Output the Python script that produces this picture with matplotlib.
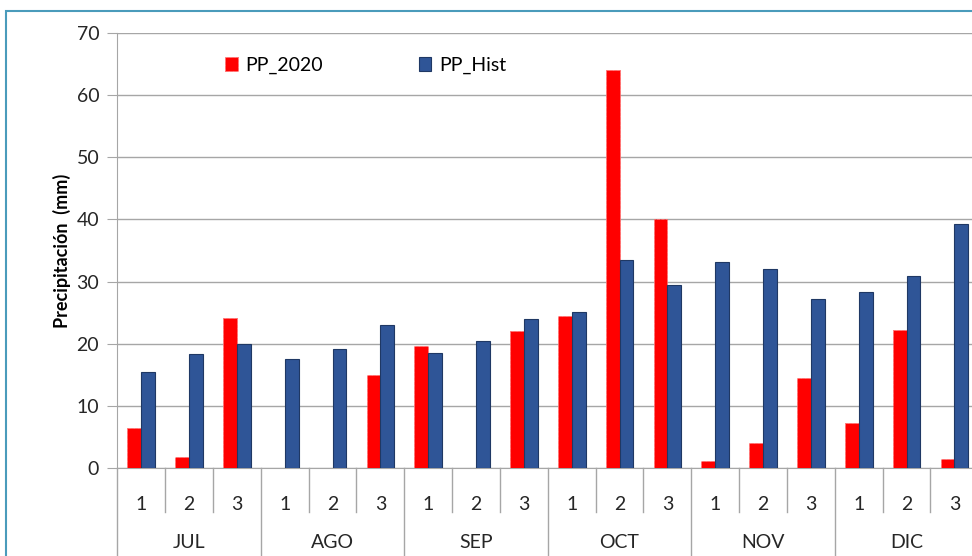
import numpy as np
import matplotlib as mpl
import matplotlib.pyplot as plt
from matplotlib.patches import Rectangle

plt.rcParams['font.family'] = ['Lato', 'DejaVu Sans']

months = ['JUL', 'AGO', 'SEP', 'OCT', 'NOV', 'DIC']
decades = ['1', '2', '3']

pp_2020 = [6.5, 1.7, 24.2,
           0.0, 0.0, 15.0,
           19.6, 0.0, 22.0,
           24.5, 64.0, 40.0,
           1.2, 4.0, 14.5,
           7.2, 22.2, 1.5]
pp_hist = [15.4, 18.3, 20.0,
           17.5, 19.1, 23.0,
           18.5, 20.4, 23.9,
           25.1, 33.5, 29.5,
           33.2, 32.1, 27.2,
           28.4, 30.9, 39.3]

n = len(pp_2020)
ind = np.arange(n)
width = 0.29
grey = '#a6a6a6'
fs = 14

fig = plt.figure(figsize=(9.72, 5.56), dpi=100)
ax = fig.add_axes([117.3/972, 88/556, 861/972, 435/556])

# outer chart frame (cut off on right/bottom in the reference)
fig.patches.append(Rectangle((6/972, -0.1), 1.2, 1 - 11/556 + 0.1,
                             transform=fig.transFigure, fill=False,
                             edgecolor='#4a9bbb', linewidth=1.5))

r1 = ax.bar(ind - width/2, pp_2020, width, color='#ff0000',
            edgecolor='#ff7070', linestyle='--', linewidth=0.6, zorder=3)
r2 = ax.bar(ind + width/2, pp_hist, width, color='#2f5597',
            edgecolor='#1f3864', linewidth=0.8, zorder=3)

ax.set_xlim(-0.5, n - 0.5)
ax.set_ylim(0, 70)
ax.set_yticks(np.arange(0, 80, 10))
ax.yaxis.grid(True, color=grey, linewidth=1.0, zorder=0)
ax.tick_params(axis='y', labelsize=fs, length=7, color=grey,
               labelcolor='#262626', pad=6)
for s in ['top', 'right']:
    ax.spines[s].set_visible(False)
ax.spines['left'].set_color(grey)
ax.spines['bottom'].set_color(grey)

ax.set_xticks(ind)
ax.set_xticklabels(decades * len(months), fontsize=fs, color='#262626')
ax.tick_params(axis='x', length=0, pad=20)

# separators for the two-level category axis
tr = ax.get_xaxis_transform()
for k in range(n + 1):
    x = k - 0.5
    y0 = -0.43 if k % 3 == 0 else -0.101
    ax.plot([x, x], [0, y0], transform=tr, color=grey, linewidth=1.0,
            clip_on=False)
for m, name in enumerate(months):
    ax.text(3*m + 1, -0.171, name, transform=tr, ha='center', va='center',
            fontsize=fs, color='#262626')

ax.set_ylabel('Precipitación  (mm)', fontsize=13, fontweight='bold',
              labelpad=4)

ax.legend((r1[0], r2[0]), ('PP_2020', 'PP_Hist'), ncol=2, frameon=False,
          fontsize=fs, loc='upper left', bbox_to_anchor=(0.105, 0.985),
          handlelength=0.65, handleheight=0.75, columnspacing=4.9,
          handletextpad=0.4)

fig.savefig('out.png', dpi=100)
